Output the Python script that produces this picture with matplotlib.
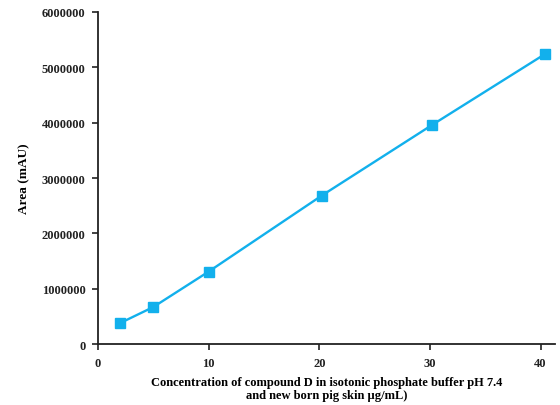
import matplotlib

matplotlib.use("Agg")
import matplotlib.pyplot as plt
from matplotlib.ticker import MultipleLocator, FuncFormatter

# ---------- data ----------
conc = [2.0, 5.0, 10.0, 20.2, 30.2, 40.4]
area = [380000, 670000, 1310000, 2680000, 3960000, 5240000]

plt.rcParams.update(
    {
        "font.family": ["Liberation Serif", "DejaVu Serif"],
        "font.weight": "bold",
        "font.size": 9,
    }
)

fig = plt.figure(figsize=(5.6, 4.06), dpi=100)
ax = fig.add_axes([0.175, 0.150, 0.816, 0.818])

ax.plot(conc, area, color="#12B0EC", linewidth=1.7, marker="s",
        markersize=6.5, markerfacecolor="#12B0EC", markeredgecolor="#12B0EC")

ax.set_xlim(0, 41.3)
ax.set_ylim(0, 6000000)
ax.xaxis.set_major_locator(MultipleLocator(10))
ax.yaxis.set_major_locator(MultipleLocator(1000000))
ax.yaxis.set_major_formatter(FuncFormatter(lambda v, p: f"{int(v)}"))

for s in ("top", "right"):
    ax.spines[s].set_visible(False)
for s in ("left", "bottom"):
    ax.spines[s].set_linewidth(1.3)
    ax.spines[s].set_color("#222222")
ax.tick_params(axis="both", direction="out", length=4, width=1.2,
               labelsize=9, pad=5, colors="#222222")
for lbl in ax.get_xticklabels() + ax.get_yticklabels():
    lbl.set_fontweight("bold")

ax.set_xlabel("Concentration of compound D in isotonic phosphate buffer pH 7.4\n"
              "and new born pig skin \u00b5g/mL)", fontsize=9, fontweight="bold",
              labelpad=5, linespacing=1.15)
ax.set_ylabel("Area (mAU)", fontsize=9.5, fontweight="bold", labelpad=8)

fig.savefig("out.png", dpi=100)
